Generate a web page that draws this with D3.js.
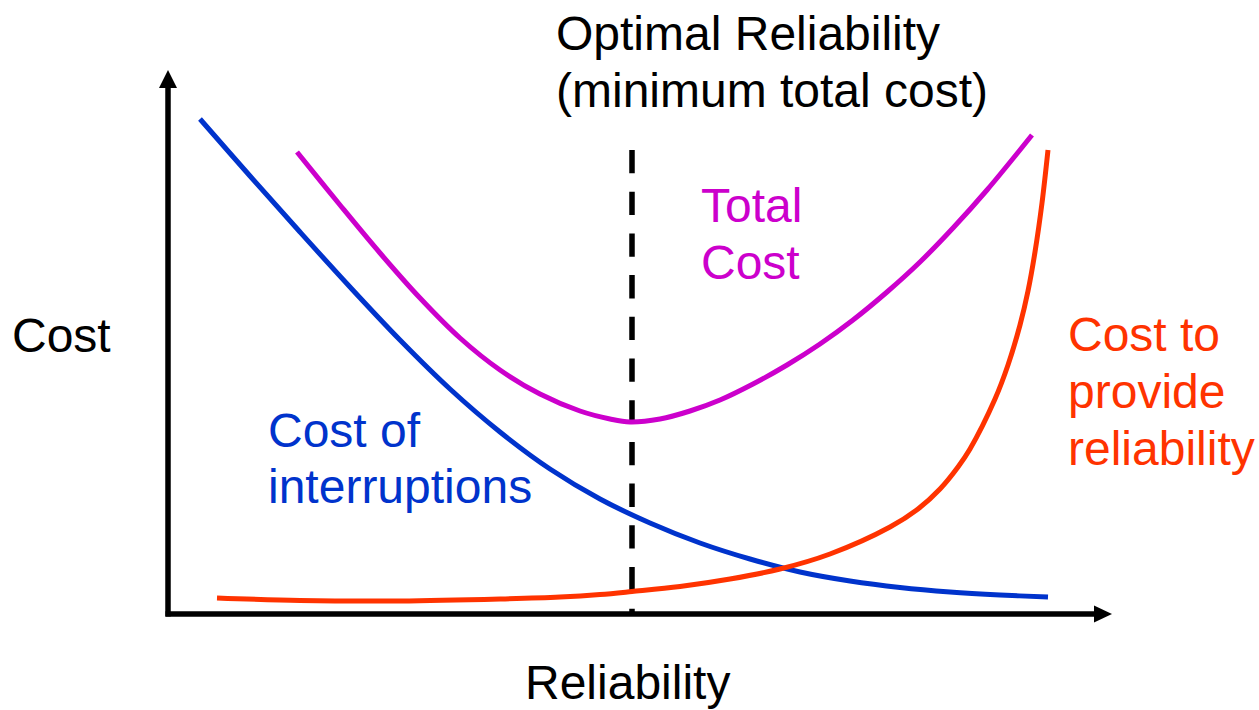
<!DOCTYPE html>
<html>
<head>
<meta charset="utf-8">
<script src="https://cdn.jsdelivr.net/npm/d3@7"></script>
<style>
  body { margin: 0; background: #fff; }
  text { font-family: "Liberation Sans", Arial, sans-serif; font-size: 48px; }
</style>
</head>
<body>
<div id="chart"></div>
<script>
// reliability (x) and cost (y) in axis units
const interruptX = [3.2, 8.2, 13.2, 18.2, 23.2, 28.2, 33.2, 38.2, 43.2, 48.2, 53.2, 58.2, 63.2, 68.2, 73.2, 78.2, 83.2, 88.0];
const interruptY = [49.5, 43.8, 38.2, 32.7, 27.4, 22.5, 18.2, 14.5, 11.5, 9.1, 7.1, 5.5, 4.2, 3.3, 2.65, 2.2, 1.9, 1.7];

const provideX = [4.9, 13.2, 23.2, 33.2, 39.2, 43.2, 46.4, 51.2, 56.2, 61.2, 66.2, 72.2, 75.0, 77.2, 79.0, 80.2, 82.7, 84.0, 85.2, 86.0, 86.7, 87.4, 88.0];
const provideY = [1.6, 1.35, 1.3, 1.5, 1.7, 1.95, 2.25, 2.75, 3.5, 4.5, 6.0, 8.7, 10.5, 12.5, 14.7, 16.5, 21.5, 24.9, 28.9, 32.3, 36.2, 41.1, 46.4];

const totalX = [12.9, 17.2, 21.2, 25.2, 29.2, 33.2, 37.2, 41.2, 44.2, 46.2, 49.2, 52.2, 55.2, 58.5, 61.9, 65.2, 68.5, 71.9, 75.2, 78.5, 81.9, 86.4];
const totalY = [46.2, 40.9, 36.1, 31.6, 27.6, 24.4, 22.0, 20.3, 19.5, 19.2, 19.5, 20.3, 21.4, 23.0, 24.9, 27.0, 29.4, 32.2, 35.2, 38.6, 42.4, 47.9];

const optimalX = 46.4;
const optimalTop = 46.4;
const xMax = 94.4;
const yMax = 54.4;

const titleLines = ["Optimal Reliability", "(minimum total cost)"];
const totalLabel = ["Total", "Cost"];
const interruptLabel = ["Cost of", "interruptions"];
const provideLabel = ["Cost to", "provide", "reliability"];
const xTitle = "Reliability";
const yTitle = "Cost";

const w = 1259, h = 710;
const blue = "#0033cc", magenta = "#cc00cc", red = "#ff3300";

const svg = d3.select("#chart").append("svg")
  .attr("width", w)
  .attr("height", h);

const x = d3.scaleLinear().domain([0, xMax]).range([168, 1112]);
const y = d3.scaleLinear().domain([0, yMax]).range([614, 70]);

// axes with arrow heads
svg.append("line")
  .attr("x1", x(0)).attr("y1", y(0) + 2.5)
  .attr("x2", x(0)).attr("y2", y(yMax) + 16)
  .attr("stroke", "#000").attr("stroke-width", 5.5);
svg.append("path")
  .attr("d", `M${x(0)},${y(yMax)} L${x(0) - 9},${y(yMax) + 18} L${x(0) + 9},${y(yMax) + 18} Z`)
  .attr("fill", "#000");

svg.append("line")
  .attr("x1", x(0) - 2.5).attr("y1", y(0))
  .attr("x2", x(xMax) - 16).attr("y2", y(0))
  .attr("stroke", "#000").attr("stroke-width", 5.5);
svg.append("path")
  .attr("d", `M${x(xMax)},${y(0)} L${x(xMax) - 18},${y(0) - 8.5} L${x(xMax) - 18},${y(0) + 8.5} Z`)
  .attr("fill", "#000");

// optimal reliability marker
svg.append("line")
  .attr("x1", x(optimalX)).attr("y1", y(optimalTop))
  .attr("x2", x(optimalX)).attr("y2", y(0))
  .attr("stroke", "#000")
  .attr("stroke-width", 5.5)
  .attr("stroke-dasharray", "23.3,18.4");

const line = d3.line()
  .x(d => x(d[0]))
  .y(d => y(d[1]))
  .curve(d3.curveCatmullRom.alpha(0.5));

const series = [
  { xs: interruptX, ys: interruptY, color: blue },
  { xs: provideX, ys: provideY, color: red },
  { xs: totalX, ys: totalY, color: magenta }
];

svg.selectAll(".curve")
  .data(series)
  .enter().append("path")
  .attr("class", "curve")
  .attr("d", s => line(d3.zip(s.xs, s.ys)))
  .attr("fill", "none")
  .attr("stroke", s => s.color)
  .attr("stroke-width", 5);

// multi-line labels
function addLabel (lines, lx, ly, color, step) {
  svg.append("text")
    .attr("fill", color)
    .selectAll("tspan")
    .data(lines)
    .enter().append("tspan")
    .attr("x", lx)
    .attr("y", (d, i) => ly + i * step)
    .text(d => d);
}

addLabel(titleLines, 556, 50, "#000", 57);
addLabel(totalLabel, 701, 222, magenta, 57);
addLabel(interruptLabel, 268, 447, blue, 56);
addLabel(provideLabel, 1068, 351, red, 57);
addLabel([yTitle], 12, 352, "#000", 0);
addLabel([xTitle], 525, 699, "#000", 0);
</script>
</body>
</html>
